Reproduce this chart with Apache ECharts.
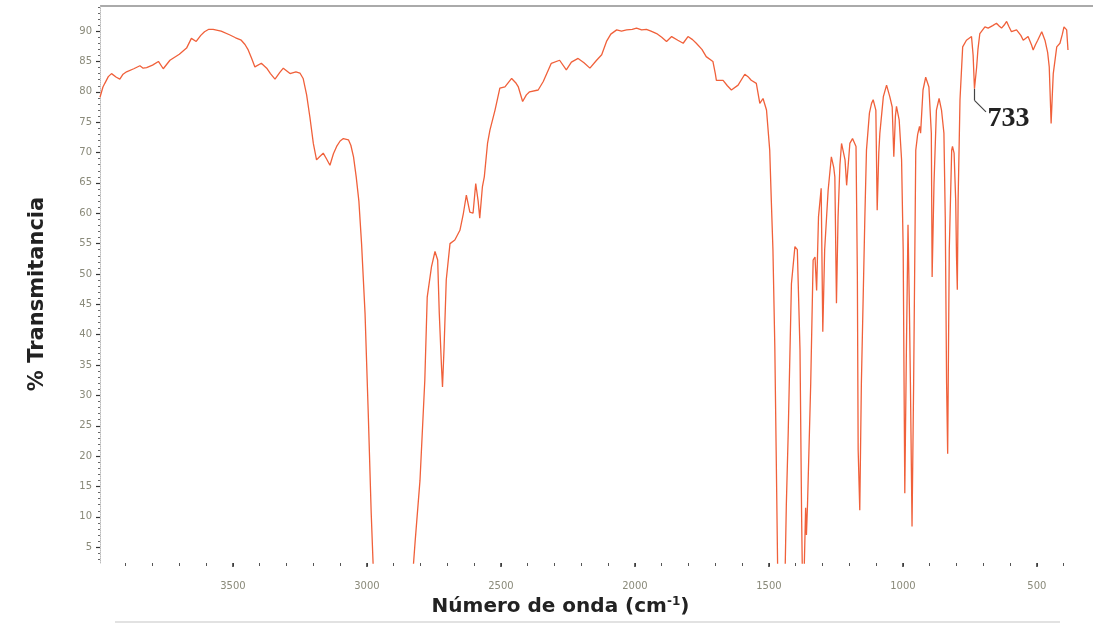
<!DOCTYPE html>
<html>
<head>
<meta charset="utf-8">
<script src="https://cdn.jsdelivr.net/npm/echarts@6/dist/echarts.min.js"></script>
<style>
html,body{margin:0;padding:0;background:#fff;}
#chart{width:1093px;height:626px;}
</style>
</head>
<body>
<div id="chart"></div>
<script>
// ---- data ----
const WAVENUMBER = [
3996,3985,3978,3965,3953,3935,3922,3910,3897,3870,3847,3835,3822,3800,3778,3760,3735,3700,3673,3655,3637,3620,3606,3590,3574,3544,3513,3490,3469,3455,3443,3430,3418,3394,3374,3360,3343,3325,3312,3287,3265,3250,3238,3225,3213,3200,3188,3175,3163,3150,3138,3125,3113,3100,3088,3069,3060,3050,3040,3030,3020,3007,2995,2984,2975,
2830,2820,2802,2784,2775,2759,2746,2736,2730,2722,2718,2712,2704,2690,2672,2653,2640,2629,2616,2604,2594,2585,2579,2569,2562,2550,2541,2522,2504,2485,2460,2445,2435,2419,2405,2393,2361,2342,2312,2281,2256,2237,2212,2190,2168,2143,2124,2106,2090,2068,2050,2031,2010,1994,1975,1957,1940,1919,1900,1882,1863,1840,1820,1802,1785,1771,1750,1734,1709,1700,1696,1671,1655,1640,1615,1590,1578,1566,1547,1534,1522,1509,1497,1491,1485,1478,1473,1467,
1440,1435,1428,1416,1403,1394,1384,1378,1375,1368,1363,1360,1356,1344,1335,1328,1322,1315,1305,1299,1292,1279,1267,1258,1254,1248,1242,1235,1229,1216,1210,1198,1188,1175,1170,1167,1161,1155,1142,1136,1125,1117,1111,1101,1096,1090,1086,1073,1061,1049,1040,1034,1028,1024,1014,1005,999,993,987,981,976,972,966,960,952,945,938,934,925,915,903,894,891,884,875,865,856,847,842,837,833,827,818,815,809,803,800,797,794,787,777,763,744,738,733,725,720,713,694,682,665,651,640,632,622,613,605,595,576,560,551,533,520,514,505,497,482,470,460,454,447,443,439,426,414,405,399,389,384
];
const TRANSMITTANCE = [
79.1,80.8,81.4,82.5,83.0,82.4,82.1,82.9,83.3,83.8,84.3,83.9,84.0,84.4,85.0,83.8,85.2,86.2,87.2,88.8,88.3,89.3,89.9,90.3,90.3,90.0,89.4,88.9,88.5,87.8,86.9,85.5,84.1,84.7,83.9,83.0,82.1,83.2,83.9,83.0,83.3,83.1,82.2,79.5,75.9,71.5,68.8,69.4,69.9,68.9,67.9,69.8,71.0,71.9,72.3,72.1,71.2,69.3,66.0,62.0,55.0,43.5,27.0,10.6,0,
0,6,16,32.5,46.2,51.2,53.7,52.3,43.5,35,31.4,38.0,49,55,55.6,57.2,60,63,60.2,60,64.9,62,59.2,64.4,66,71.5,73.7,77,80.6,80.8,82.2,81.5,80.8,78.4,79.5,80,80.3,81.7,84.7,85.2,83.6,84.9,85.5,84.8,83.9,85.2,86.1,88.3,89.5,90.2,90.0,90.2,90.3,90.5,90.2,90.3,90.0,89.6,89.0,88.3,89.1,88.5,88.0,89.1,88.6,88,87.0,85.8,85,83,81.9,81.9,81.0,80.3,81.1,82.9,82.5,81.9,81.4,78.1,78.9,77,70.4,62,54,38,21,0,
0,12,23.8,48.4,54.5,54,37.5,10,0,2,11.5,7,12,32,52.3,52.8,47.3,59.4,64.1,40.5,54,63.8,69.3,67.5,66,45.2,59.4,68,71.5,68.8,64.6,71.5,72.3,71,50,21,11.1,32,59.4,70.4,76.5,78.1,78.7,77,60.5,70,73.2,79.2,81.1,79.2,77.5,69.3,76,77.6,75.4,68.8,54,13.9,37.5,58.1,45,32,8.4,32,70.4,73,74.3,73.2,80.3,82.4,80.8,73.2,49.5,64.9,77,78.9,77,73.2,59.4,32,20.4,54,70.4,71,69.9,62,52.8,47.4,62.2,78.7,87.4,88.5,89.1,86,80.5,84,87,89.6,90.7,90.5,90.9,91.3,90.8,90.5,91.0,91.6,90.8,89.9,90.2,89.3,88.5,89.1,87.7,86.9,87.8,88.5,89.9,88.5,86.5,84.1,74.8,79,83.0,87.4,88,89.5,90.7,90.2,86.9
];
const X_LABELS = [500,1000,1500,2000,2500,3000,3500];
const Y_LABELS = [5,10,15,20,25,30,35,40,45,50,55,60,65,70,75,80,85,90];
const ANNOT_LABEL = '733';
const ANNOT_PEAK = [733, 80.5];
const ANNOT_BEND = [733, 78.6];
const ANNOT_END = [690, 76.7];
const ANNOT_TEXT_AT = [684, 75.6];

// ---- derived ----
const X_MINOR = [];
for (let v = 400; v <= 3900; v += 100) X_MINOR.push(v);
const Y_MINOR = [];
for (let v = 3; v <= 94; v += 1) Y_MINOR.push(v);
const seriesData = WAVENUMBER.map((w, i) => [w, TRANSMITTANCE[i]]);

const X_MIN = 384, X_MAX = 3996, Y_MIN = 2.4, Y_MAX = 94.3;
const labelFont = {fontFamily: 'DejaVu Sans', fontSize: 10, color: '#8a8a7a'};
const plain = v => String(v);

const chart = echarts.init(document.getElementById('chart'), null, {renderer: 'canvas'});
chart.setOption({
  backgroundColor: '#fff',
  animation: false,
  grid: {left: 100, right: 25, top: 5, bottom: 63},
  xAxis: [{
    type: 'value', inverse: true, min: X_MIN, max: X_MAX,
    axisLine: {show: false},
    splitLine: {show: false},
    axisTick: {show: true, customValues: X_MINOR, length: 3, lineStyle: {color: '#555', width: 1}},
    axisLabel: Object.assign({show: true, customValues: X_LABELS, margin: 18, formatter: plain}, labelFont),
    name: 'Número de onda (cm{sup|-1})',
    nameLocation: 'middle', nameGap: 33,
    nameTextStyle: {
      fontFamily: 'DejaVu Sans', fontWeight: 'bold', fontSize: 20, color: '#222',
      padding: [0, 47, 0, 0],
      rich: {sup: {fontFamily: 'DejaVu Sans', fontWeight: 'bold', fontSize: 12, color: '#222', verticalAlign: 'top', padding: [0, 0, 10, 0]}}
    }
  }, {
    type: 'value', inverse: true, min: X_MIN, max: X_MAX, position: 'bottom',
    axisLine: {show: false}, splitLine: {show: false},
    axisTick: {show: true, customValues: X_LABELS, length: 4, lineStyle: {color: '#333', width: 1.5}},
    axisLabel: {show: false}
  }],
  yAxis: [{
    type: 'value', min: Y_MIN, max: Y_MAX,
    axisLine: {show: true, lineStyle: {color: '#bbb', width: 1, type: 'dotted'}},
    splitLine: {show: false},
    axisTick: {show: true, customValues: Y_MINOR, length: 2, lineStyle: {color: '#666', width: 1}},
    axisLabel: Object.assign({show: true, customValues: Y_LABELS, margin: 8, formatter: plain}, labelFont),
    name: '% Transmitancia',
    nameLocation: 'middle', nameGap: 52, nameRotate: 90,
    nameTextStyle: {fontFamily: 'DejaVu Sans', fontWeight: 'bold', fontSize: 21, color: '#222', padding: [0, 20, 0, 0]}
  }, {
    type: 'value', min: Y_MIN, max: Y_MAX, position: 'left', offset: 0,
    axisLine: {show: false}, splitLine: {show: false},
    axisTick: {show: true, customValues: Y_LABELS, length: 4, lineStyle: {color: '#333', width: 1.2}},
    axisLabel: {show: false}
  }],
  graphic: [
    {type: 'line', shape: {x1: 100, y1: 6, x2: 1093, y2: 6}, style: {stroke: '#aaa', lineWidth: 2}, silent: true},
    {type: 'line', shape: {x1: 115, y1: 622, x2: 1060, y2: 622}, style: {stroke: '#e2e2e2', lineWidth: 2}, silent: true}
  ],
  series: [{
    type: 'line',
    data: seriesData,
    showSymbol: false,
    symbol: 'none',
    clip: true,
    lineStyle: {color: '#f0603a', width: 1.3},
    markLine: {
      silent: true, symbol: 'none', label: {show: false},
      lineStyle: {color: '#444', width: 1.2, type: 'solid'},
      data: [
        [{coord: ANNOT_PEAK}, {coord: ANNOT_BEND}],
        [{coord: ANNOT_BEND}, {coord: ANNOT_END}]
      ]
    },
    markPoint: {
      silent: true,
      data: [{coord: ANNOT_TEXT_AT, symbol: 'circle', symbolSize: 0,
        label: {show: true, position: 'right', distance: 0, formatter: ANNOT_LABEL,
          fontFamily: 'Liberation Serif', fontWeight: 'bold', fontSize: 28, color: '#222'}}]
    }
  }]
});
</script>
</body>
</html>
